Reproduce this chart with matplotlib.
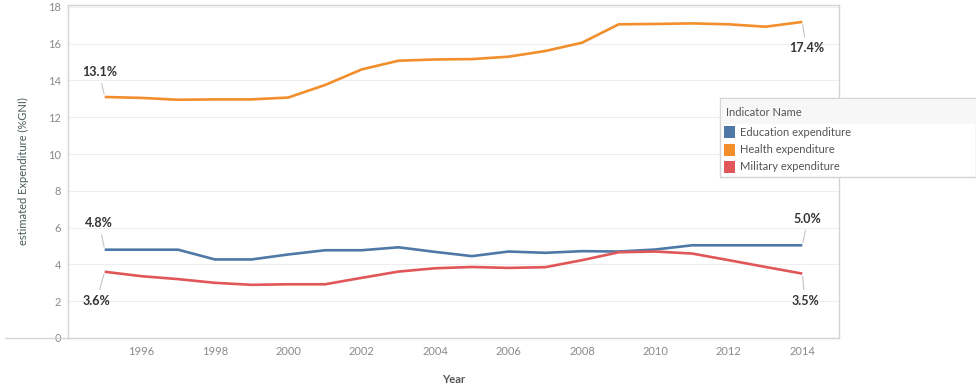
import matplotlib.pyplot as plt
from matplotlib.patches import Rectangle
from matplotlib.lines import Line2D

# datos
years = list(range(1995, 2015))
education = [4.80, 4.80, 4.80, 4.27, 4.27, 4.54, 4.77, 4.77, 4.93, 4.68,
             4.45, 4.70, 4.63, 4.72, 4.70, 4.81, 5.04, 5.04, 5.04, 5.04]
health = [13.10, 13.05, 12.95, 12.97, 12.97, 13.07, 13.75, 14.60, 15.07, 15.14,
          15.16, 15.29, 15.60, 16.05, 17.05, 17.07, 17.10, 17.05, 16.92, 17.18]
military = [3.60, 3.36, 3.20, 3.00, 2.89, 2.92, 2.92, 3.27, 3.61, 3.79,
            3.86, 3.81, 3.85, 4.23, 4.66, 4.70, 4.59, 4.23, 3.86, 3.50]

series_names = ["Education expenditure", "Health expenditure", "Military expenditure"]
colors = ["#4e79a7", "#f28e2b", "#e15759"]
start_labels = ["4.8%", "13.1%", "3.6%"]
end_labels = ["5.0%", "17.4%", "3.5%"]

plt.rcParams['font.family'] = ['Lato', 'DejaVu Sans']

fig = plt.figure(figsize=(9.76, 3.84), dpi=100)
ax = fig.add_axes([68/976, 1-338/384, (839-68)/976, (338-5)/384])

# offsets (puntos) para las etiquetas de inicio y fin
start_off = [(-4, 19), (-4, 18), (-6, -21)]
end_off = [(4, 19), (3, -19), (2, -20)]

for vals, c, name, sl, el, so, eo in zip([education, health, military], colors, series_names,
                                         start_labels, end_labels, start_off, end_off):
    ax.plot(years, vals, color=c, lw=1.9, solid_capstyle='butt')
    for lab, x, y, off in [(sl, years[0], vals[0], so), (el, years[-1], vals[-1], eo)]:
        ax.annotate(lab, (x, y), xytext=off, textcoords='offset points',
                    ha='center', va='center', fontsize=9, fontweight='bold', color='#333333',
                    arrowprops=dict(arrowstyle='-', color='#c4c4c4', lw=0.8,
                                    shrinkA=2, shrinkB=2))

ax.set_xlim(1994, 2015)
ax.set_ylim(0, 18.1)
ax.set_xticks(range(1996, 2015, 2))
ax.set_yticks(range(0, 19, 2))
ax.tick_params(axis='both', length=0, labelsize=8, labelcolor='#8a8a8a')
ax.tick_params(axis='x', pad=6)
ax.tick_params(axis='y', pad=5)
ax.grid(axis='y', color='#efefef', lw=0.8)
ax.set_axisbelow(True)
for s in ax.spines.values():
    s.set_color('#d4d4d4')
    s.set_linewidth(1.0)

ax.set_ylabel("estimated Expenditure (%GNI)", fontsize=8, color='#4a5a5a', labelpad=14)
ax.set_xlabel("Year", fontsize=8, fontweight='bold', color='#555555', labelpad=12)

# linea base que se extiende a la izquierda
fig.add_artist(Line2D([5/976, 68/976], [1-338/384, 1-338/384], color='#d4d4d4', lw=1.0))

# leyenda
lx0, ly0, lx1, ly1 = 720, 98, 976, 177
fig.add_artist(Rectangle((lx0/976, 1-ly1/384), (lx1-lx0)/976, (ly1-ly0)/384,
                         facecolor='white', edgecolor='#d4d4d4', lw=1.0))
fig.add_artist(Rectangle((lx0/976 + 0.001, 1-124/384), (lx1-lx0-2)/976, (124-ly0-1)/384,
                         facecolor='#f7f7f7', edgecolor='none'))
fig.text(726/976, 1-112/384, "Indicator Name", fontsize=8, color='#555555', va='center')
for i, (name, c) in enumerate(zip(series_names, colors)):
    yc = 132 + i*17.5
    fig.add_artist(Rectangle((724/976, 1-(yc+6)/384), 11/976, 12/384,
                             facecolor=c, edgecolor='none'))
    fig.text(740/976, 1-yc/384, name, fontsize=8, color='#555555', va='center')

fig.savefig("out.png", dpi=100)
